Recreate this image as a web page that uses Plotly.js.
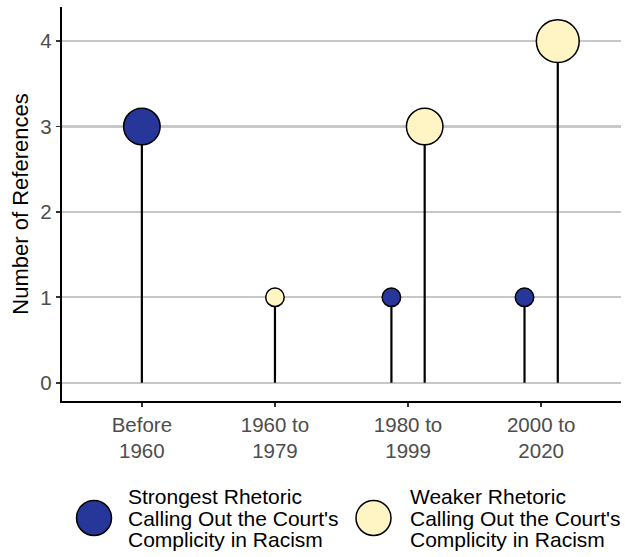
<!DOCTYPE html>
<html>
<head>
<meta charset="utf-8">
<script src="https://cdn.plot.ly/plotly-3.0.1.min.js"></script>
<style>html,body{margin:0;padding:0;background:#fff;}#chart{width:625px;height:557px;}</style>
</head>
<body>
<div id="chart"></div>
<script>
// ---- data ----
const categories = ['Before<br>1960', '1960 to<br>1979', '1980 to<br>1999', '2000 to<br>2020'];
const strongestValues = [3, null, 1, 1];
const weakerValues = [null, 1, 3, 4];
const seriesNames = [
  "Strongest Rhetoric<br>Calling Out the Court's<br>Complicity in Racism",
  "Weaker Rhetoric<br>Calling Out the Court's<br>Complicity in Racism"
];
const yTicks = [0, 1, 2, 3, 4];

// ---- styling / helpers ----
const colors = ['#263799', '#FFF4C4'];
const FONT = 'Liberation Sans, Arial, sans-serif';
const DODGE = 0.125;
function sizeFor(v) { return Math.sqrt(522 * v - 122) - 1.5; }

const series = [strongestValues, weakerValues];
const idx = categories.map((_, i) => i);

function xFor(s, i) {
  const both = series.every(arr => arr[i] !== null);
  if (!both) return i;
  return i + (s === 0 ? -DODGE : DODGE);
}

const traces = series.map((vals, s) => {
  const keep = idx.filter(i => vals[i] !== null);
  const ys = keep.map(i => vals[i]);
  return {
    type: 'scatter', mode: 'markers',
    x: keep.map(i => xFor(s, i)),
    y: ys,
    name: seriesNames[s],
    showlegend: false,
    marker: { color: colors[s], size: ys.map(sizeFor), line: { color: '#000', width: 1.5 }, opacity: 1 },
    error_y: { type: 'data', symmetric: false, array: ys.map(() => 0), arrayminus: ys, width: 0, thickness: 2.2, color: '#000' },
    cliponaxis: false,
    hoverinfo: 'x+y'
  };
});

// custom legend (large keys)
const L = 62, R = 4, T = 7, B = 156, W = 625, H = 557;
const pw = W - L - R, ph = H - T - B;
const px2x = p => (p - L) / pw;
const py2y = p => (H - B - p) / ph;
const legendItems = [
  { cx: 94, tx: 128 },
  { cx: 373.5, tx: 409.5 }
];
const legendCy = 518;
const shapes = [], annotations = [];
legendItems.forEach((it, s) => {
  shapes.push({
    type: 'circle', xref: 'paper', yref: 'paper',
    xsizemode: 'pixel', ysizemode: 'pixel',
    xanchor: px2x(it.cx), yanchor: py2y(legendCy),
    x0: -17.5, x1: 17.5, y0: -17.5, y1: 17.5,
    fillcolor: colors[s], line: { color: '#000', width: 1.5 }
  });
  const lines = seriesNames[s].split('<br>');
  lines.forEach((ln, k) => {
    annotations.push({
      xref: 'paper', yref: 'paper', x: px2x(it.tx - 2), y: py2y(legendCy + (k - 1) * 21.5),
      xanchor: 'left', yanchor: 'middle', text: ln, showarrow: false,
      font: { family: FONT, size: 21, color: '#000' }
    });
  });
});

const layout = {
  width: W, height: H,
  margin: { l: L, r: R, t: T, b: B },
  paper_bgcolor: '#fff', plot_bgcolor: '#fff',
  showlegend: false,
  font: { family: FONT },
  xaxis: {
    range: [-0.6, 3.6],
    tickvals: idx, ticktext: categories,
    showgrid: false, zeroline: false,
    showline: true, linecolor: '#000', linewidth: 2.2,
    ticks: 'outside', ticklen: 4, tickwidth: 1.8, tickcolor: '#333',
    tickfont: { family: FONT, size: 20.5, color: '#4D4D4D' }
  },
  yaxis: {
    range: [-0.214, 4.40],
    tickvals: yTicks,
    showgrid: true, gridcolor: '#C8C8C8', gridwidth: 2.2,
    zeroline: false,
    showline: true, linecolor: '#000', linewidth: 2.2,
    ticks: 'outside', ticklen: 4, tickwidth: 1.8, tickcolor: '#333',
    tickfont: { family: FONT, size: 20.5, color: '#4D4D4D' },
    title: { text: 'Number of References', font: { family: FONT, size: 22, color: '#000' }, standoff: 6 }
  },
  shapes: shapes,
  annotations: annotations
};

Plotly.newPlot('chart', traces, layout, { displayModeBar: false, staticPlot: true });
</script>
</body>
</html>
